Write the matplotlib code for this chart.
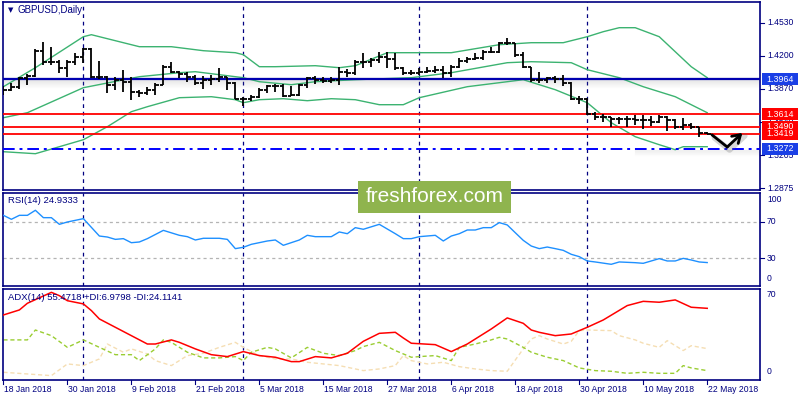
import matplotlib
matplotlib.use('Agg')
import matplotlib.pyplot as plt
from matplotlib import font_manager
from matplotlib.transforms import blended_transform_factory as btf
from matplotlib.patches import Rectangle
import numpy as np

# ---------------- data ----------------
chart_title = 'GBPUSD,Daily'
date_labels = ['18 Jan 2018', '30 Jan 2018', '9 Feb 2018', '21 Feb 2018', '5 Mar 2018',
               '15 Mar 2018', '27 Mar 2018', '6 Apr 2018', '18 Apr 2018', '30 Apr 2018',
               '10 May 2018', '22 May 2018']
date_label_bars = [0, 8, 16, 24, 32, 40, 48, 56, 64, 72, 80, 88]
month_sep_bars = [10, 30, 52, 73]

opens = [1.383, 1.386, 1.389, 1.398, 1.400, 1.425, 1.414, 1.414, 1.408, 1.414,
         1.419, 1.427, 1.399, 1.399, 1.391, 1.396, 1.394, 1.384, 1.383, 1.386,
         1.391, 1.409, 1.404, 1.402, 1.399, 1.393, 1.396, 1.397, 1.399, 1.393,
         1.377, 1.377, 1.379, 1.386, 1.390, 1.390, 1.380, 1.381, 1.391, 1.398,
         1.396, 1.395, 1.396, 1.404, 1.403, 1.414, 1.414, 1.416, 1.419, 1.417,
         1.408, 1.403, 1.403, 1.404, 1.405, 1.406, 1.403, 1.409, 1.415, 1.417,
         1.418, 1.424, 1.424, 1.433, 1.433, 1.421, 1.409, 1.396, 1.396, 1.398,
         1.397, 1.393, 1.377, 1.377, 1.362, 1.359, 1.359, 1.357, 1.357, 1.357,
         1.356, 1.356, 1.354, 1.359, 1.356, 1.349, 1.351, 1.349, 1.343]
highs = [1.390, 1.393, 1.399, 1.402, 1.427, 1.434, 1.429, 1.416, 1.416, 1.423,
         1.428, 1.428, 1.415, 1.400, 1.399, 1.406, 1.399, 1.386, 1.389, 1.393,
         1.411, 1.414, 1.405, 1.404, 1.401, 1.400, 1.401, 1.408, 1.399, 1.394,
         1.379, 1.381, 1.388, 1.391, 1.392, 1.392, 1.390, 1.392, 1.399, 1.400,
         1.399, 1.399, 1.409, 1.407, 1.416, 1.423, 1.418, 1.424, 1.424, 1.423,
         1.409, 1.406, 1.408, 1.409, 1.410, 1.410, 1.411, 1.418, 1.419, 1.423,
         1.426, 1.429, 1.434, 1.438, 1.433, 1.424, 1.409, 1.404, 1.399, 1.400,
         1.401, 1.394, 1.380, 1.378, 1.364, 1.362, 1.359, 1.359, 1.360, 1.361,
         1.361, 1.360, 1.361, 1.360, 1.357, 1.358, 1.353, 1.349, 1.344]
lows = [1.381, 1.385, 1.387, 1.391, 1.399, 1.411, 1.411, 1.403, 1.399, 1.411,
        1.413, 1.398, 1.397, 1.383, 1.386, 1.384, 1.376, 1.379, 1.381, 1.381,
        1.391, 1.403, 1.398, 1.394, 1.391, 1.387, 1.391, 1.394, 1.386, 1.377,
        1.370, 1.375, 1.378, 1.383, 1.384, 1.379, 1.380, 1.380, 1.388, 1.392,
        1.393, 1.393, 1.391, 1.399, 1.401, 1.408, 1.409, 1.413, 1.408, 1.406,
        1.401, 1.401, 1.401, 1.403, 1.403, 1.398, 1.399, 1.408, 1.413, 1.416,
        1.416, 1.423, 1.423, 1.431, 1.419, 1.408, 1.394, 1.393, 1.393, 1.393,
        1.390, 1.376, 1.372, 1.361, 1.356, 1.354, 1.349, 1.352, 1.349, 1.351,
        1.347, 1.350, 1.353, 1.345, 1.347, 1.346, 1.347, 1.339, 1.342]
closes = [1.386, 1.389, 1.398, 1.400, 1.425, 1.414, 1.414, 1.408, 1.414, 1.419,
          1.427, 1.399, 1.399, 1.391, 1.396, 1.394, 1.384, 1.383, 1.386, 1.391,
          1.409, 1.404, 1.402, 1.399, 1.393, 1.396, 1.397, 1.399, 1.393, 1.377,
          1.377, 1.379, 1.386, 1.390, 1.390, 1.380, 1.381, 1.391, 1.398, 1.396,
          1.395, 1.396, 1.404, 1.403, 1.414, 1.414, 1.416, 1.419, 1.417, 1.408,
          1.403, 1.403, 1.404, 1.405, 1.406, 1.403, 1.409, 1.415, 1.417, 1.418,
          1.424, 1.424, 1.433, 1.433, 1.421, 1.409, 1.396, 1.396, 1.398, 1.397,
          1.393, 1.377, 1.377, 1.362, 1.359, 1.359, 1.357, 1.357, 1.357, 1.356,
          1.356, 1.354, 1.359, 1.356, 1.349, 1.351, 1.349, 1.343, 1.342]

bb_upper_bars = [0, 4, 10, 11, 17, 21, 25, 29, 30, 32, 34, 39, 42, 44, 48, 56, 62, 66, 70,
                 73, 75, 77, 79, 82, 84, 86, 88]
bb_upper = [1.389, 1.408, 1.439, 1.441, 1.429, 1.429, 1.425, 1.423, 1.421, 1.409, 1.409,
            1.410, 1.408, 1.410, 1.423, 1.423, 1.431, 1.433, 1.433, 1.439, 1.444, 1.448,
            1.448, 1.439, 1.424, 1.409, 1.398]
bb_mid_bars = [0, 3, 10, 17, 22, 24, 27, 30, 32, 36, 39, 44, 51, 56, 63, 66, 71, 73, 77,
               80, 84, 88]
bb_mid = [1.358, 1.363, 1.388, 1.399, 1.403, 1.404, 1.401, 1.398, 1.394, 1.391, 1.394,
          1.396, 1.398, 1.403, 1.413, 1.414, 1.413, 1.406, 1.398, 1.389, 1.379, 1.363]
bb_low_bars = [0, 4, 7, 10, 13, 16, 18, 22, 26, 29, 30, 32, 35, 38, 41, 44, 47, 50, 52,
               58, 62, 65, 69, 73, 76, 79, 82, 84, 85, 88]
bb_low = [1.324, 1.322, 1.329, 1.336, 1.349, 1.364, 1.369, 1.378, 1.379, 1.376, 1.373,
          1.376, 1.377, 1.375, 1.377, 1.376, 1.371, 1.371, 1.378, 1.389, 1.393, 1.396,
          1.386, 1.373, 1.353, 1.339, 1.331, 1.326, 1.329, 1.329]

rsi_bars = [0, 1, 2, 3, 4, 5, 6, 7, 8, 10, 12, 13, 14, 15, 16, 17, 18, 20, 22, 23, 24, 25,
            27, 28, 29, 30, 31, 33, 34, 35, 37, 38, 39, 41, 42, 43, 44, 45, 47, 49, 50, 51,
            52, 54, 55, 56, 57, 58, 59, 60, 61, 62, 63, 64, 65, 66, 67, 68, 69, 70, 71, 72,
            73, 74, 76, 77, 79, 80, 81, 82, 83, 84, 85, 86, 87, 88]
rsi_vals = [77.4, 73.0, 77.4, 77.4, 83.0, 74.8, 74.8, 67.4, 70.0, 73.7, 54.4, 53.3, 50.7,
            51.5, 47.0, 47.8, 51.5, 60.7, 55.2, 53.7, 50.0, 51.9, 51.9, 50.7, 40.4, 41.9,
            45.2, 48.9, 50.0, 44.1, 50.0, 55.2, 53.7, 53.7, 58.9, 57.0, 63.7, 61.9, 67.4,
            57.0, 51.5, 51.5, 53.7, 55.2, 48.9, 54.4, 57.0, 61.1, 61.1, 63.7, 63.7, 69.3,
            66.7, 58.1, 49.6, 43.3, 40.4, 42.2, 40.4, 38.5, 34.1, 31.5, 26.7, 25.6, 23.0,
            25.6, 24.8, 24.1, 26.7, 29.3, 26.7, 26.7, 29.6, 27.8, 25.6, 24.93]

adx_bars = [0, 2, 3, 6, 7, 8, 10, 11, 12, 14, 16, 18, 19, 21, 22, 24, 26, 28, 30, 32, 34,
            36, 37, 39, 41, 43, 45, 47, 49, 50, 51, 54, 56, 58, 61, 63, 65, 66, 67, 69, 71,
            73, 75, 78, 80, 82, 84, 86, 88]
adx_vals = [50.3, 54.2, 59.4, 67.9, 65.3, 61.4, 58.9, 53.7, 47.2, 40.7, 34.2, 27.7, 27.7,
            30.9, 29.0, 23.9, 19.4, 17.9, 21.8, 18.7, 17.4, 14.0, 14.0, 17.9, 16.9, 20.5,
            29.8, 36.0, 36.8, 32.4, 28.3, 27.2, 21.8, 27.7, 39.4, 48.0, 43.8, 38.6, 36.8,
            34.2, 35.5, 40.7, 46.4, 57.6, 60.9, 60.2, 62.0, 56.3, 55.47]
pdi_bars = [0, 3, 4, 6, 8, 10, 12, 14, 16, 17, 19, 20, 21, 23, 25, 27, 29, 30, 31, 33, 34,
            36, 38, 40, 42, 44, 45, 47, 49, 51, 52, 54, 56, 57, 59, 61, 62, 63, 65, 66, 68,
            70, 72, 74, 76, 78, 80, 82, 84, 85, 86, 88]
pdi_vals = [30.9, 30.9, 38.6, 34.2, 25.1, 30.9, 25.1, 19.4, 19.4, 14.8, 23.9, 30.9, 29.0,
            21.3, 16.9, 16.9, 17.9, 14.8, 21.3, 25.1, 23.9, 16.9, 25.1, 20.5, 18.7, 22.6,
            25.7, 29.0, 22.6, 17.4, 17.9, 18.7, 14.8, 25.1, 27.7, 30.9, 32.9, 31.6, 25.1,
            21.3, 17.4, 14.8, 9.1, 7.0, 6.5, 4.9, 5.7, 4.9, 4.9, 10.9, 9.1, 6.98]
mdi_bars = [0, 3, 6, 8, 10, 12, 13, 15, 16, 18, 19, 21, 23, 25, 27, 29, 30, 32, 34, 36, 38,
            40, 42, 44, 45, 47, 49, 50, 51, 53, 55, 57, 59, 61, 63, 65, 66, 67, 68, 70, 71,
            72, 73, 76, 77, 79, 80, 82, 83, 85, 86, 88]
mdi_vals = [5.7, 4.4, 3.1, 12.2, 10.9, 16.1, 27.7, 21.3, 23.9, 20.0, 14.8, 10.9, 18.7, 20.5,
            25.1, 29.0, 25.1, 18.7, 16.1, 16.1, 13.5, 12.2, 10.9, 8.3, 7.0, 8.3, 10.9, 18.7,
            14.8, 12.2, 13.5, 10.1, 8.3, 7.0, 6.5, 23.9, 31.6, 34.2, 31.6, 27.7, 29.8, 38.1,
            38.6, 38.1, 34.2, 30.9, 28.3, 25.1, 30.3, 22.6, 26.4, 24.11]

price_ticks = [1.4530, 1.4200, 1.3870, 1.3540, 1.3205, 1.2875]
blue_level = 1.3964
red_levels = [1.3614, 1.3490, 1.3419]
support_level = 1.3272
rsi_levels = [70, 30]
rsi_header = 'RSI(14) 24.9333'
adx_header = 'ADX(14) 55.4718 +DI:6.9798 -DI:24.1141'
arrow_bars = [88.6, 90.5, 92.4]
arrow_prices = [1.3408, 1.3287, 1.3428]
watermark = 'freshforex.com'

# ---------------- style ----------------
W, H = 800, 400
NAVY = '#000080'
names = {f.name for f in font_manager.fontManager.ttflist}
LF = 'Liberation Sans' if 'Liberation Sans' in names else 'DejaVu Sans'
WMF = 'Liberation Sans Narrow' if 'Liberation Sans Narrow' in names else LF
plt.rcParams['font.family'] = [LF, 'DejaVu Sans']

fig = plt.figure(figsize=(8, 4), dpi=100)
fig.patch.set_facecolor('white')


def rect(x0, y0, x1, y1):
    return [x0 / W, 1 - y1 / H, (x1 - x0) / W, (y1 - y0) / H]


ax1 = fig.add_axes(rect(3, 2, 760, 190))
ax2 = fig.add_axes(rect(3, 193, 760, 286))
ax3 = fig.add_axes(rect(3, 289, 760, 380))
XL = (-0.05, 94.6)
for ax in (ax1, ax2, ax3):
    ax.set_xlim(*XL)
    ax.set_xticks([])
    ax.set_yticks([])
    for s in ax.spines.values():
        s.set_color(NAVY)
        s.set_linewidth(1.2)
    for b in month_sep_bars:
        ax.axvline(b, color=NAVY, lw=0.9, ls=(0, (3, 3)), zorder=1)

ax1.set_ylim(1.2857, 1.4737)
ax2.set_ylim(-1.1, 102.2)
ax3.set_ylim(-0.3, 70.5)

# ---------- main panel ----------
idx = np.arange(len(closes))
ax1.plot(bb_upper_bars, bb_upper, color='#3cb371', lw=1.0, zorder=2)
ax1.plot(bb_mid_bars, bb_mid, color='#3cb371', lw=1.0, zorder=2)
ax1.plot(bb_low_bars, bb_low, color='#3cb371', lw=1.0, zorder=2)

# shadows
for k in range(-2, 9):
    a = 0.16 * (1 - abs(k) / 9) if k >= 0 else 0.05
    ax1.axhline(blue_level - 0.001 * k, color='#808080', lw=0.9, alpha=a, zorder=1.5)
for k in range(1, 7):
    ax1.plot([79, 94.6], [support_level - 0.001 * k] * 2, color='#808080', lw=0.9,
             alpha=0.12 * (1 - k / 7), zorder=1.5)

ax1.axhline(blue_level, color='#0000b0', lw=1.6, zorder=3)
for r in red_levels:
    ax1.axhline(r, color='#ff0000', lw=1.3, zorder=3)
ax1.axhline(support_level, color='#0000ff', lw=1.4, ls=(0, (6, 2.5, 1.5, 2.5)), zorder=3)

ax1.vlines(idx, lows, highs, color='black', lw=1.3, zorder=4)
ax1.hlines(opens, idx - 0.42, idx, color='black', lw=1.3, zorder=4)
ax1.hlines(closes, idx, idx + 0.42, color='black', lw=1.3, zorder=4)

# forecast arrow with shadow
sx = [b + 0.3 for b in arrow_bars]
sy = [p - 0.003 for p in arrow_prices]
ax1.plot(sx, sy, color='#606060', lw=4, alpha=0.25, solid_capstyle='round', zorder=4)
ax1.plot(arrow_bars[:2], arrow_prices[:2], color='black', lw=2, solid_capstyle='round', zorder=5)
ax1.annotate('', xy=(arrow_bars[2], arrow_prices[2]), xytext=(arrow_bars[1], arrow_prices[1]),
             arrowprops=dict(arrowstyle='->,head_length=0.55,head_width=0.35', lw=2,
                             color='black', shrinkA=0, shrinkB=0), zorder=5)

tr1 = btf(ax1.transAxes, ax1.transData)
px = 1.0 / 757
for t in price_ticks:
    ax1.plot([1, 1 + 4 * px], [t, t], color=NAVY, lw=0.8, transform=tr1, clip_on=False)
    ax1.text(1 + 7 * px, t, f'{t:.4f}', transform=tr1, color=NAVY, fontsize=6.2,
             va='center', ha='left', zorder=2)


def box(val, fc):
    ax1.add_patch(Rectangle((1 + 2 * px, val - 0.006), 36 * px, 0.012, transform=tr1,
                            facecolor=fc, edgecolor='none', clip_on=False, zorder=10))
    ax1.text(1 + 20 * px, val, f'{val:.4f}', transform=tr1, color='white', fontsize=6.4,
             va='center', ha='center', zorder=11, clip_on=False)


box(blue_level, '#1a3fe6')
box(red_levels[0], '#ff0000')
box(red_levels[1], '#ff0000')
box(red_levels[2], '#ff0000')
box(support_level, '#1a3fe6')

fig.text(8 / W, 1 - 10 / H, '\u25BC', color=NAVY, fontsize=5, va='center', ha='left',
         family='DejaVu Sans')
fig.text(18 / W, 1 - 10 / H, chart_title, color=NAVY, fontsize=7, va='center', ha='left')

# ---------- RSI panel ----------
for lv in rsi_levels:
    ax2.axhline(lv, color='#b4b4b4', lw=0.9, ls=(0, (2.5, 2.5)), zorder=1)
ax2.plot(rsi_bars, rsi_vals, color='#1e90ff', lw=1.0, zorder=3)
tr2 = btf(ax2.transAxes, ax2.transData)
for lv in rsi_levels:
    ax2.plot([1, 1 + 4 * px], [lv, lv], color=NAVY, lw=0.8, transform=tr2, clip_on=False)
    ax2.text(1 + 7 * px, lv, str(lv), transform=tr2, color=NAVY, fontsize=6.2, va='center')
ax2.text(1 + 7 * px, 0.925, '100', transform=ax2.transAxes, color=NAVY, fontsize=6.2, va='center')
ax2.text(1 + 7 * px, 0.086, '0', transform=ax2.transAxes, color=NAVY, fontsize=6.2, va='center')
ax2.text(5 / 757, 0.915, rsi_header, transform=ax2.transAxes, color=NAVY, fontsize=6.8,
         va='center', ha='left')

# ---------- ADX panel ----------
ax3.plot(mdi_bars, mdi_vals, color='#f5deb3', lw=1.0, ls=(0, (3, 2)), zorder=2)
ax3.plot(pdi_bars, pdi_vals, color='#9acd32', lw=1.0, ls=(0, (3, 2)), zorder=2)
ax3.plot(adx_bars, adx_vals, color='#ff0000', lw=1.1, zorder=3)
ax3.text(1 + 7 * px, 0.945, '70', transform=ax3.transAxes, color=NAVY, fontsize=6.2, va='center')
ax3.text(1 + 7 * px, 0.088, '0', transform=ax3.transAxes, color=NAVY, fontsize=6.2, va='center')
ax3.text(5 / 757, 0.905, adx_header, transform=ax3.transAxes, color=NAVY, fontsize=6.8,
         va='center', ha='left')

tr3 = btf(ax3.transData, fig.transFigure)
for b, lab in zip(date_label_bars, date_labels):
    ax3.plot([b, b], [1 - 380 / H, 1 - 384 / H], color=NAVY, lw=0.8, transform=tr3, clip_on=False)
    ax3.text(b + 0.05, 1 - 389 / H, lab, transform=tr3, color=NAVY, fontsize=6.2,
             va='center', ha='left')

# ---------- watermark ----------
fig.patches.append(Rectangle((358 / W, 1 - 213 / H), 153 / W, 32 / H, transform=fig.transFigure,
                             facecolor='#8fb44e', edgecolor='none', zorder=20))
fig.text(434.5 / W, 1 - 197 / H, watermark, color='white', fontsize=17 if WMF != LF else 15,
         family=WMF, ha='center', va='center', zorder=21)

fig.savefig('out.png', dpi=100)
